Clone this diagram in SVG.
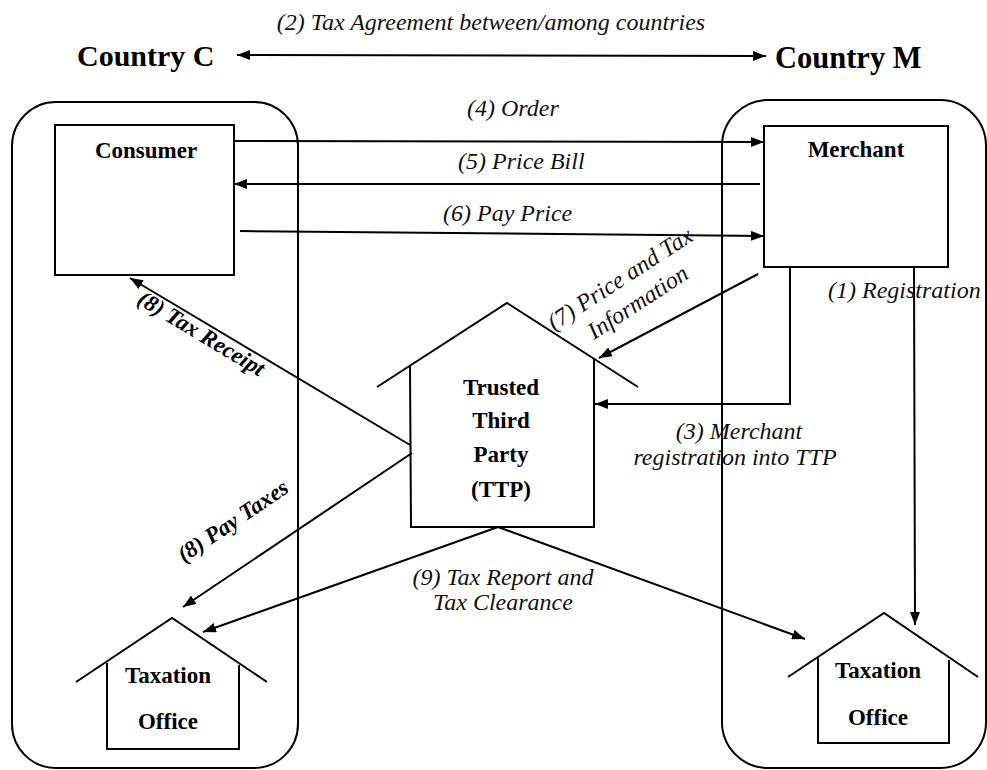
<svg xmlns="http://www.w3.org/2000/svg" width="987" height="770" viewBox="0 0 987 770">
  <style>
    .bg { fill: #ffffff; }
    .shape { fill: none; stroke: #000; stroke-width: 2; stroke-linejoin: miter; }
    .wire { fill: none; stroke: #000; stroke-width: 2; }
    .arrow { marker-end: url(#head); }
    .title { font-family: "Liberation Serif", "Times New Roman", serif; font-weight: bold; fill: #000; }
    .node { font-family: "Liberation Serif", "Times New Roman", serif; font-weight: bold; font-size: 23px; fill: #000; text-anchor: middle; }
    .lbl { font-family: "Liberation Serif", "Times New Roman", serif; font-style: italic; font-size: 24px; fill: #111; }
    .blbl { font-family: "Liberation Serif", "Times New Roman", serif; font-style: italic; font-weight: bold; font-size: 23px; fill: #000; }
  </style>
  <defs>
    <marker id="head" markerWidth="13" markerHeight="10" refX="13" refY="5" orient="auto-start-reverse" markerUnits="userSpaceOnUse">
      <path d="M0,0 L13,5 L0,10 z" fill="#000"/>
    </marker>
  </defs>

  <rect class="bg" x="0" y="0" width="987" height="770"/>

  <!-- country containers -->
  <g id="country-c">
    <rect class="shape" x="12" y="102" width="286" height="666" rx="44" ry="44"/>
    <text class="title" x="77" y="66" font-size="30">Country C</text>
  </g>
  <g id="country-m">
    <rect class="shape" x="722" y="100" width="264" height="668" rx="46" ry="46"/>
    <text class="title" x="775" y="68" font-size="30.5">Country M</text>
  </g>

  <!-- nodes -->
  <g id="consumer">
    <rect class="shape" x="55" y="125" width="179" height="150"/>
    <text class="node" x="146" y="158" font-size="24">Consumer</text>
  </g>
  <g id="merchant">
    <rect class="shape" x="764" y="126" width="184" height="141"/>
    <text class="node" x="856" y="157" font-size="24">Merchant</text>
  </g>
  <g id="ttp">
    <polyline class="shape" points="377,387 507,303 638,387"/>
    <polyline class="shape" points="410,366 411,527 594,527 594,358"/>
    <text class="node" x="501" y="395">Trusted</text>
    <text class="node" x="501" y="428">Third</text>
    <text class="node" x="501" y="462">Party</text>
    <text class="node" x="501" y="497">(TTP)</text>
  </g>
  <g id="tax-office-c">
    <polyline class="shape" points="76,682 172,618 267,682"/>
    <polyline class="shape" points="107,663 107,749 239,749 239,665"/>
    <text class="node" x="168" y="683">Taxation</text>
    <text class="node" x="168" y="729">Office</text>
  </g>
  <g id="tax-office-m">
    <polyline class="shape" points="788,677 884,613 978,677"/>
    <polyline class="shape" points="818,658 818,743 949,743 949,660"/>
    <text class="node" x="878" y="678">Taxation</text>
    <text class="node" x="878" y="725">Office</text>
  </g>

  <!-- connectors -->
  <g id="connectors">
    <!-- (2) agreement between countries -->
    <line class="wire" x1="237" y1="55" x2="766" y2="56" marker-start="url(#head)" marker-end="url(#head)"/>
    <!-- (4) order -->
    <line class="wire arrow" x1="234" y1="141" x2="764" y2="142"/>
    <!-- (5) price bill -->
    <line class="wire arrow" x1="760" y1="184" x2="234" y2="184"/>
    <!-- (6) pay price -->
    <line class="wire arrow" x1="240" y1="231" x2="764" y2="236"/>
    <!-- (7) price and tax information -->
    <line class="wire arrow" x1="758" y1="274" x2="599" y2="358"/>
    <!-- (3) merchant registration into TTP -->
    <polyline class="wire arrow" points="790,267 790,404 595,404"/>
    <!-- (1) registration -->
    <line class="wire arrow" x1="914" y1="267" x2="915" y2="625"/>
    <!-- (8) tax receipt -->
    <line class="wire arrow" x1="410" y1="445" x2="130" y2="278"/>
    <!-- (8) pay taxes -->
    <line class="wire arrow" x1="412" y1="453" x2="183" y2="607"/>
    <!-- (9) tax report and clearance -->
    <line class="wire arrow" x1="498" y1="527" x2="203" y2="632"/>
    <line class="wire arrow" x1="498" y1="527" x2="805" y2="639"/>
  </g>

  <!-- connector labels -->
  <g id="labels">
    <text class="lbl" x="491" y="30" text-anchor="middle" font-size="24.8">(2) Tax Agreement between/among countries</text>
    <text class="lbl" x="467" y="116">(4) Order</text>
    <text class="lbl" x="458" y="169">(5) Price Bill</text>
    <text class="lbl" x="443" y="221">(6) Pay Price</text>
    <text class="lbl" x="828" y="298">(1) Registration</text>
    <text class="lbl" x="739" y="439" text-anchor="middle">(3) Merchant</text>
    <text class="lbl" x="735" y="465" text-anchor="middle">registration into TTP</text>
    <text class="lbl" x="554" y="331" transform="rotate(-33 554 331)">(7) Price and Tax</text>
    <text class="lbl" x="594" y="340" transform="rotate(-33 594 340)">Information</text>
    <text class="blbl" x="136" y="303" transform="rotate(31 136 303)">(8) Tax Receipt</text>
    <text class="blbl" x="184" y="563" transform="rotate(-34 184 563)" font-size="24.5">(8) Pay Taxes</text>
    <text class="lbl" x="503" y="585" text-anchor="middle">(9) Tax Report and</text>
    <text class="lbl" x="503" y="610" text-anchor="middle">Tax Clearance</text>
  </g>
</svg>
